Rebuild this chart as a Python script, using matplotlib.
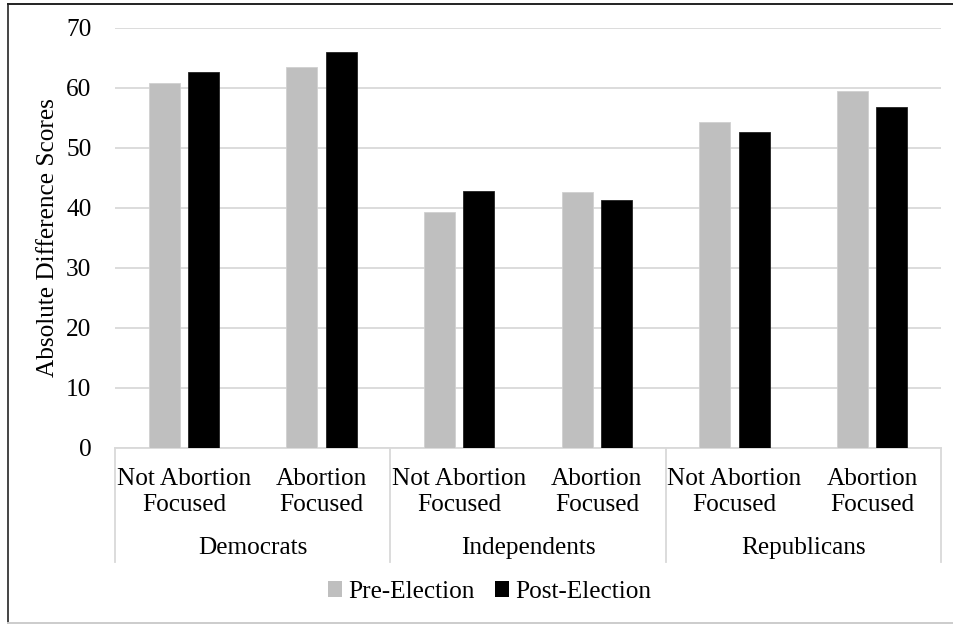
import matplotlib
matplotlib.use("Agg")
import matplotlib.pyplot as plt
from matplotlib.lines import Line2D
from matplotlib.patches import Patch
from matplotlib.transforms import blended_transform_factory

# Data
parties = ["Democrats", "Independents", "Republicans"]
conditions = ["Not Abortion\nFocused", "Abortion\nFocused"]
series_names = ["Pre-Election", "Post-Election"]
pre_election = [60.8, 63.5, 39.4, 42.6, 54.4, 59.5]
post_election = [62.6, 66.0, 42.9, 41.4, 52.7, 56.9]
y_ticks = [0, 10, 20, 30, 40, 50, 60, 70]

GRAY = "#bfbfbf"
BLACK = "#000000"
GRID = "#d9d9d9"
FONT = "Liberation Serif"
FS = 18.2

W, H = 954, 625
fig = plt.figure(figsize=(W / 100, H / 100), dpi=100)
fig.patch.set_facecolor("white")

ax_left, ax_right, ax_top, ax_bottom = 115, 941, 28, 448
ax = fig.add_axes([ax_left / W, 1 - ax_bottom / H,
                   (ax_right - ax_left) / W, (ax_bottom - ax_top) / H])

n = len(pre_election)
centers = [i + 0.5 for i in range(n)]
width = 0.225
offset = 0.142
ax.bar([c - offset for c in centers], pre_election, width=width,
       color=GRAY, edgecolor="#d0d0d0", linewidth=0.6, zorder=3)
ax.bar([c + offset for c in centers], post_election, width=width,
       color=BLACK, edgecolor="#222222", linewidth=0.6, zorder=3)

ax.set_xlim(0, n)
ax.set_ylim(0, 70)
ax.set_yticks(y_ticks)
ax.set_yticklabels([str(t) for t in y_ticks], fontfamily=FONT, fontsize=FS)
ax.tick_params(axis="y", length=0, pad=17)
ax.set_xticks([])
ax.yaxis.grid(True, color=GRID, linewidth=1.3, zorder=0)
for s in ["left", "right", "top"]:
    ax.spines[s].set_visible(False)
ax.spines["bottom"].set_color(GRID)
ax.spines["bottom"].set_linewidth(1.3)

# Two-level category axis
trans = blended_transform_factory(ax.transData, ax.transAxes)
axh = ax_bottom - ax_top
def yfrac(py):
    return -(py - ax_bottom) / axh

for i, c in enumerate(centers):
    ax.text(c, yfrac(492), conditions[i % 2], transform=trans, ha="center",
            va="center", fontfamily=FONT, fontsize=FS, linespacing=1.2,
            clip_on=False)
for g, name in enumerate(parties):
    ax.text(2 * g + 1, yfrac(548), name, transform=trans, ha="center",
            va="center", fontfamily=FONT, fontsize=FS, clip_on=False)
for xs in range(0, n + 1, 2):
    ax.add_line(Line2D([xs, xs], [0, yfrac(562)], transform=trans,
                       color=GRID, linewidth=1.3, clip_on=False))

fig.text(48 / W, 1 - 238 / H, "Absolute Difference Scores", rotation=90,
         ha="center", va="center", fontfamily=FONT, fontsize=FS)

handles = [Patch(facecolor=GRAY, edgecolor="none"),
           Patch(facecolor=BLACK, edgecolor="none")]
fig.legend(handles, series_names, loc="center",
           bbox_to_anchor=(490 / W, 1 - 592 / H), ncol=2, frameon=False,
           prop={"family": FONT, "size": FS}, handlelength=0.55,
           handleheight=0.55, handletextpad=0.25, columnspacing=0.8)

# Outer frame
fig.add_artist(Line2D([8.5 / W, 8.5 / W], [1 - 4 / H, 1 - 623 / H],
                      transform=fig.transFigure, color="#444444", linewidth=1.4))
fig.add_artist(Line2D([8.5 / W, 1.0], [1 - 4 / H, 1 - 4 / H],
                      transform=fig.transFigure, color="#222222", linewidth=1.4))
fig.add_artist(Line2D([8.5 / W, 1.0], [1 - 623 / H, 1 - 623 / H],
                      transform=fig.transFigure, color="#cccccc", linewidth=1.4))

fig.savefig("out.png", dpi=100, facecolor="white")
